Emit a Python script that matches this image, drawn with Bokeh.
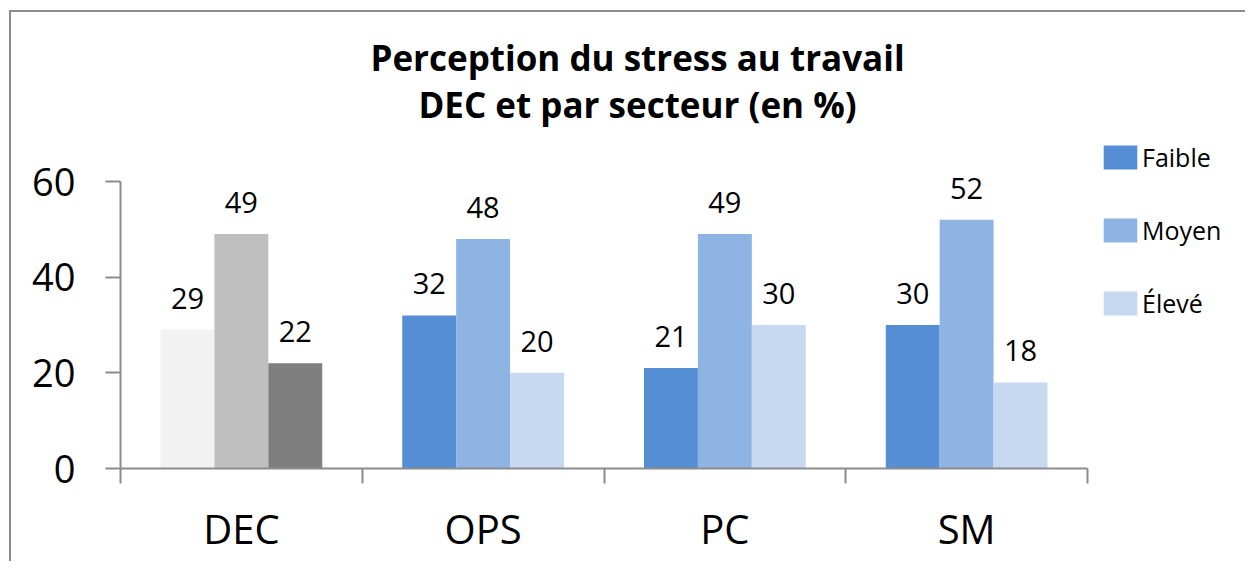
from bokeh.plotting import figure
from bokeh.models import (ColumnDataSource, Range1d, FixedTicker, LinearAxis,
                          Legend, LegendItem, LabelSet, Label)
from bokeh.core.properties import value
from bokeh.embed import file_html
from bokeh.resources import INLINE

# ---- data ----
categories = ["DEC", "OPS", "PC", "SM"]
series = ["Faible", "Moyen", "Élevé"]
faible = [29, 32, 21, 30]
moyen = [49, 48, 49, 52]
eleve = [22, 20, 30, 18]
title_lines = ["Perception du stress au travail", "DEC et par secteur (en %)"]
y_ticks = [0, 20, 40, 60]
y_max = 60

# ---- style / layout (pixels, picture coordinates) ----
series_colors = ["#558ED5", "#8EB4E3", "#C6D9F1"]
dec_colors = ["#F2F2F2", "#BFBFBF", "#7F7F7F"]
AXIS_COLOR = "#8C8C8C"
FONT = "Open Sans"
bar_width = 0.223

ORIGIN_X, ORIGIN_Y = 11, 12          # canvas top-left in picture
W, H = 1236, 551                     # canvas size
AX_LEFT, AX_RIGHT = 120, 1087        # x axis extent
AX_TOP, AX_BOTTOM = 181, 468         # y axis extent (y_max .. 0)

frame_left = AX_LEFT - ORIGIN_X
frame_bottom = AX_BOTTOM - ORIGIN_Y
n = len(categories)
px_per_x = (AX_RIGHT - AX_LEFT) / n
px_per_y = (AX_BOTTOM - AX_TOP) / y_max
x_end = (W - frame_left) / px_per_x
y_end = frame_bottom / px_per_y

def dx(px):   # picture x -> data x
    return (px - AX_LEFT) / px_per_x

def dy(py):   # picture y -> data y
    return (AX_BOTTOM - py) / px_per_y

p = figure(width=W, height=H, output_backend="svg", toolbar_location=None,
           x_range=Range1d(0, x_end), y_range=Range1d(0, y_end),
           min_border_left=frame_left, min_border_right=0, min_border_top=0,
           min_border_bottom=H - frame_bottom, x_axis_type=None, y_axis_type=None)
p.outline_line_color = None
p.title.visible = False
p.styles = {"position": "relative", "left": "9px", "top": "10px",
            "border-left": "2px solid #8C8C8C", "border-top": "2px solid #8C8C8C"}

renderers = []
for si, (name, vals) in enumerate(zip(series, [faible, moyen, eleve])):
    xs = [ci + 0.5 + (si - 1) * bar_width for ci in range(n)]
    colors = [dec_colors[si] if c == "DEC" else series_colors[si] for c in categories]
    src = ColumnDataSource(dict(x=xs, val=vals, color=colors, txt=[str(v) for v in vals]))
    r = p.vbar(x="x", top="val", bottom=0, width=bar_width, source=src,
               fill_color="color", line_color=None)
    renderers.append(r)
    p.add_layout(LabelSet(x="x", y="val", text="txt", source=src, y_offset=21,
                          text_align="center", text_baseline="alphabetic",
                          text_font=value(FONT), text_font_size="29px",
                          text_color="black"))

# x axis: labels at category centres, ticks at category boundaries
xaxis = LinearAxis(
    bounds=(0, n),
    ticker=FixedTicker(ticks=[i + 0.5 for i in range(n)],
                       minor_ticks=list(range(n + 1))),
    major_label_overrides={i + 0.5: c for i, c in enumerate(categories)},
    axis_line_color=AXIS_COLOR, axis_line_width=2,
    major_tick_line_color=None, major_tick_in=0, major_tick_out=0,
    minor_tick_line_color=AXIS_COLOR, minor_tick_line_width=2,
    minor_tick_in=0, minor_tick_out=15,
    major_label_standoff=17,
    major_label_text_font=FONT, major_label_text_font_size="40px",
    major_label_text_color="black")
p.add_layout(xaxis, "below")

yaxis = LinearAxis(
    bounds=(0, y_max),
    ticker=FixedTicker(ticks=y_ticks, minor_ticks=[]),
    axis_line_color=AXIS_COLOR, axis_line_width=2,
    major_tick_line_color=AXIS_COLOR, major_tick_line_width=2,
    major_tick_in=0, major_tick_out=15,
    minor_tick_line_color=None,
    major_label_standoff=30,
    major_label_text_font=FONT, major_label_text_font_size="38px",
    major_label_text_color="black")
p.add_layout(yaxis, "left")

legend = Legend(items=[LegendItem(label=s, renderers=[r], index=1)
                       for s, r in zip(series, renderers)],
                location=(1099 - AX_LEFT, AX_BOTTOM - 320), margin=0, padding=0,
                glyph_width=42, glyph_height=30, label_height=30,
                label_standoff=1, spacing=39,
                label_text_font=FONT, label_text_font_size="25px",
                label_text_color="black",
                border_line_color=None, background_fill_alpha=0)
p.add_layout(legend)

for line, base in zip(title_lines, [57, 104]):
    p.add_layout(Label(x=dx(637), y=dy(base), text=line,
                       text_align="center", text_baseline="alphabetic",
                       text_font=FONT, text_font_style="bold",
                       text_font_size="35px", text_color="black"))

open("out.html", "w").write(file_html(p, INLINE))
